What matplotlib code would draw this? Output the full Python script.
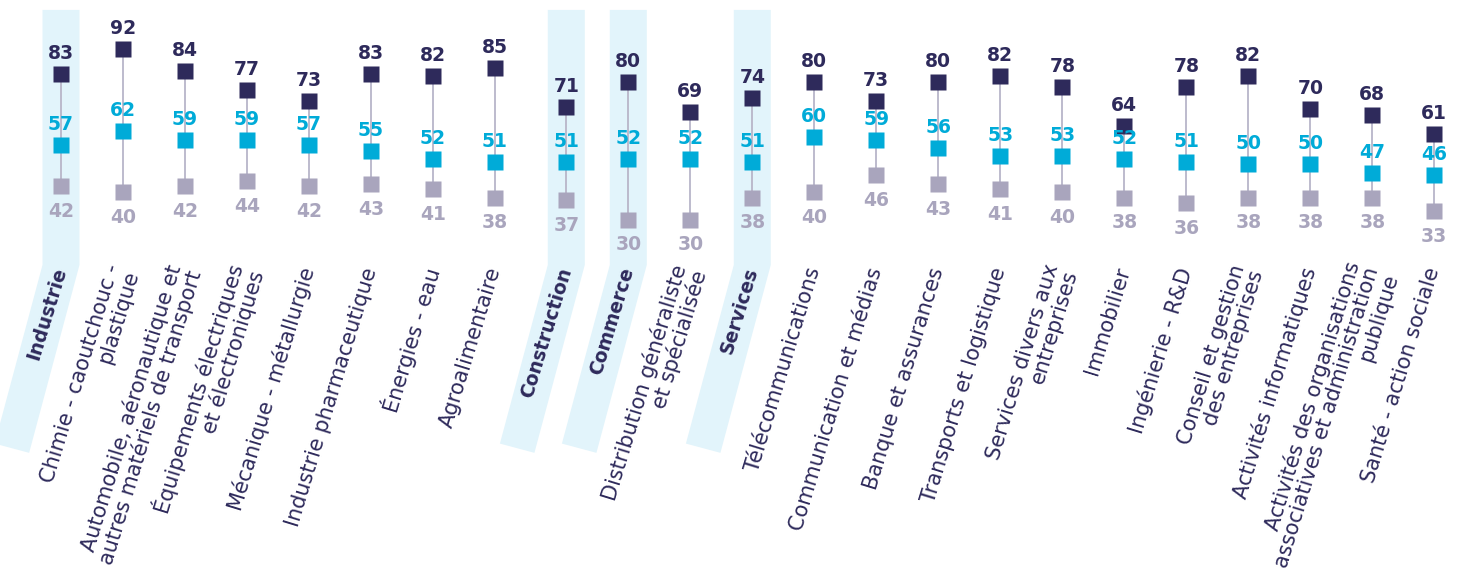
import matplotlib.pyplot as plt
import numpy as np
from matplotlib.patches import Polygon

# ── data ──────────────────────────────────────────────────────────────────────

LABELS = [
    "Industrie",
    "Chimie - caoutchouc -\nplastique",
    "Automobile, aéronautique et\nautres matériels de transport",
    "Équipements électriques\net électroniques",
    "Mécanique - métallurgie",
    "Industrie pharmaceutique",
    "Énergies - eau",
    "Agroalimentaire",
    "Construction",
    "Commerce",
    "Distribution généraliste\net spécialisée",
    "Services",
    "Télécommunications",
    "Communication et médias",
    "Banque et assurances",
    "Transports et logistique",
    "Services divers aux\nentreprises",
    "Immobilier",
    "Ingénierie - R&D",
    "Conseil et gestion\ndes entreprises",
    "Activités informatiques",
    "Activités des organisations\nassociatives et administration\npublique",
    "Santé - action sociale",
]
GROUPS = ["Industrie", "Construction", "Commerce", "Services"]

HIGH = [83, 92, 84, 77, 73, 83, 82, 85, 71, 80, 69, 74, 80, 73, 80, 82, 78, 64, 78, 82, 70, 68, 61]
MID  = [57, 62, 59, 59, 57, 55, 52, 51, 51, 52, 52, 51, 60, 59, 56, 53, 53, 52, 51, 50, 50, 47, 46]
LOW  = [42, 40, 42, 44, 42, 43, 41, 38, 37, 30, 30, 38, 40, 46, 43, 41, 40, 38, 36, 38, 38, 38, 33]

# ── style ─────────────────────────────────────────────────────────────────────

NAVY = "#2E2A5B"
CYAN = "#00ABD8"
GREY = "#A9A5BD"
BAND = "#E2F4FB"
STEM = "#B8B5C9"

W, H, DPI = 1460, 576, 100
XLIM = (-0.984, 22.565)
YLIM = (-99.6, 109.8)
GAP = 0.15          # extra space after the Industrie block
BAND_TOP, BAND_KNEE = 106.2, 13.5
LABEL_Y = 12.4
ANGLE = 73

plt.rcParams["font.family"] = ["DejaVu Sans"]

fig = plt.figure(figsize=(W / DPI, H / DPI), dpi=DPI)
ax = fig.add_axes([0, 0, 1, 1])
ax.set_xlim(*XLIM)
ax.set_ylim(*YLIM)
ax.axis("off")

idx = np.arange(len(LABELS))
xs = idx + np.where(idx >= 8, GAP, 0.0)

# pixels per data unit
sx = W / (XLIM[1] - XLIM[0])
sy = H / (YLIM[1] - YLIM[0])


def band(x):
    half = 18.5 / sx
    ang = np.radians(75)
    length = 185
    dx, dy = -length * np.cos(ang) / sx, -length * np.sin(ang) / sy
    w = 2 * half * sx * np.sin(ang)
    bl = (x - half + dx, BAND_KNEE + dy)
    br = (bl[0] + w * np.sin(ang) / sx, bl[1] - w * np.cos(ang) / sy)
    pts = [(x - half, BAND_TOP), (x + half, BAND_TOP), (x + half, BAND_KNEE),
           br, bl, (x - half, BAND_KNEE)]
    ax.add_patch(Polygon(pts, closed=True, facecolor=BAND, edgecolor="none", zorder=0))


for x, lab in zip(xs, LABELS):
    if lab in GROUPS:
        band(x)

# stems + squares
ax.vlines(xs, LOW, HIGH, color=STEM, lw=1.3, zorder=1)
ms = 11.5
ax.plot(xs, LOW, "s", ms=ms, color=GREY, mec="none", zorder=2)
ax.plot(xs, MID, "s", ms=ms, color=CYAN, mec="none", zorder=3)
ax.plot(xs, HIGH, "s", ms=ms, color=NAVY, mec="none", zorder=3)

num = dict(ha="center", fontsize=13.5, fontweight="bold", textcoords="offset points", zorder=4)
for x, hi, mi, lo in zip(xs, HIGH, MID, LOW):
    ax.annotate(f"{hi}", (x, hi), xytext=(0, 8), va="bottom", color=NAVY, **num)
    ax.annotate(f"{mi}", (x, mi), xytext=(0, 8), va="bottom", color=CYAN, **num)
    ax.annotate(f"{lo}", (x, lo), xytext=(0, -11.5), va="top", color=GREY, **num)

# category labels
for x, lab in zip(xs, LABELS):
    is_group = lab in GROUPS
    ax.text(x, LABEL_Y, lab, rotation=ANGLE, rotation_mode="anchor",
            ha="right", va="center", multialignment="right", linespacing=1.0,
            fontsize=13.5 if is_group else 15, color=NAVY,
            fontweight="bold" if is_group else "normal", zorder=4)

fig.savefig("out.png", dpi=DPI)
